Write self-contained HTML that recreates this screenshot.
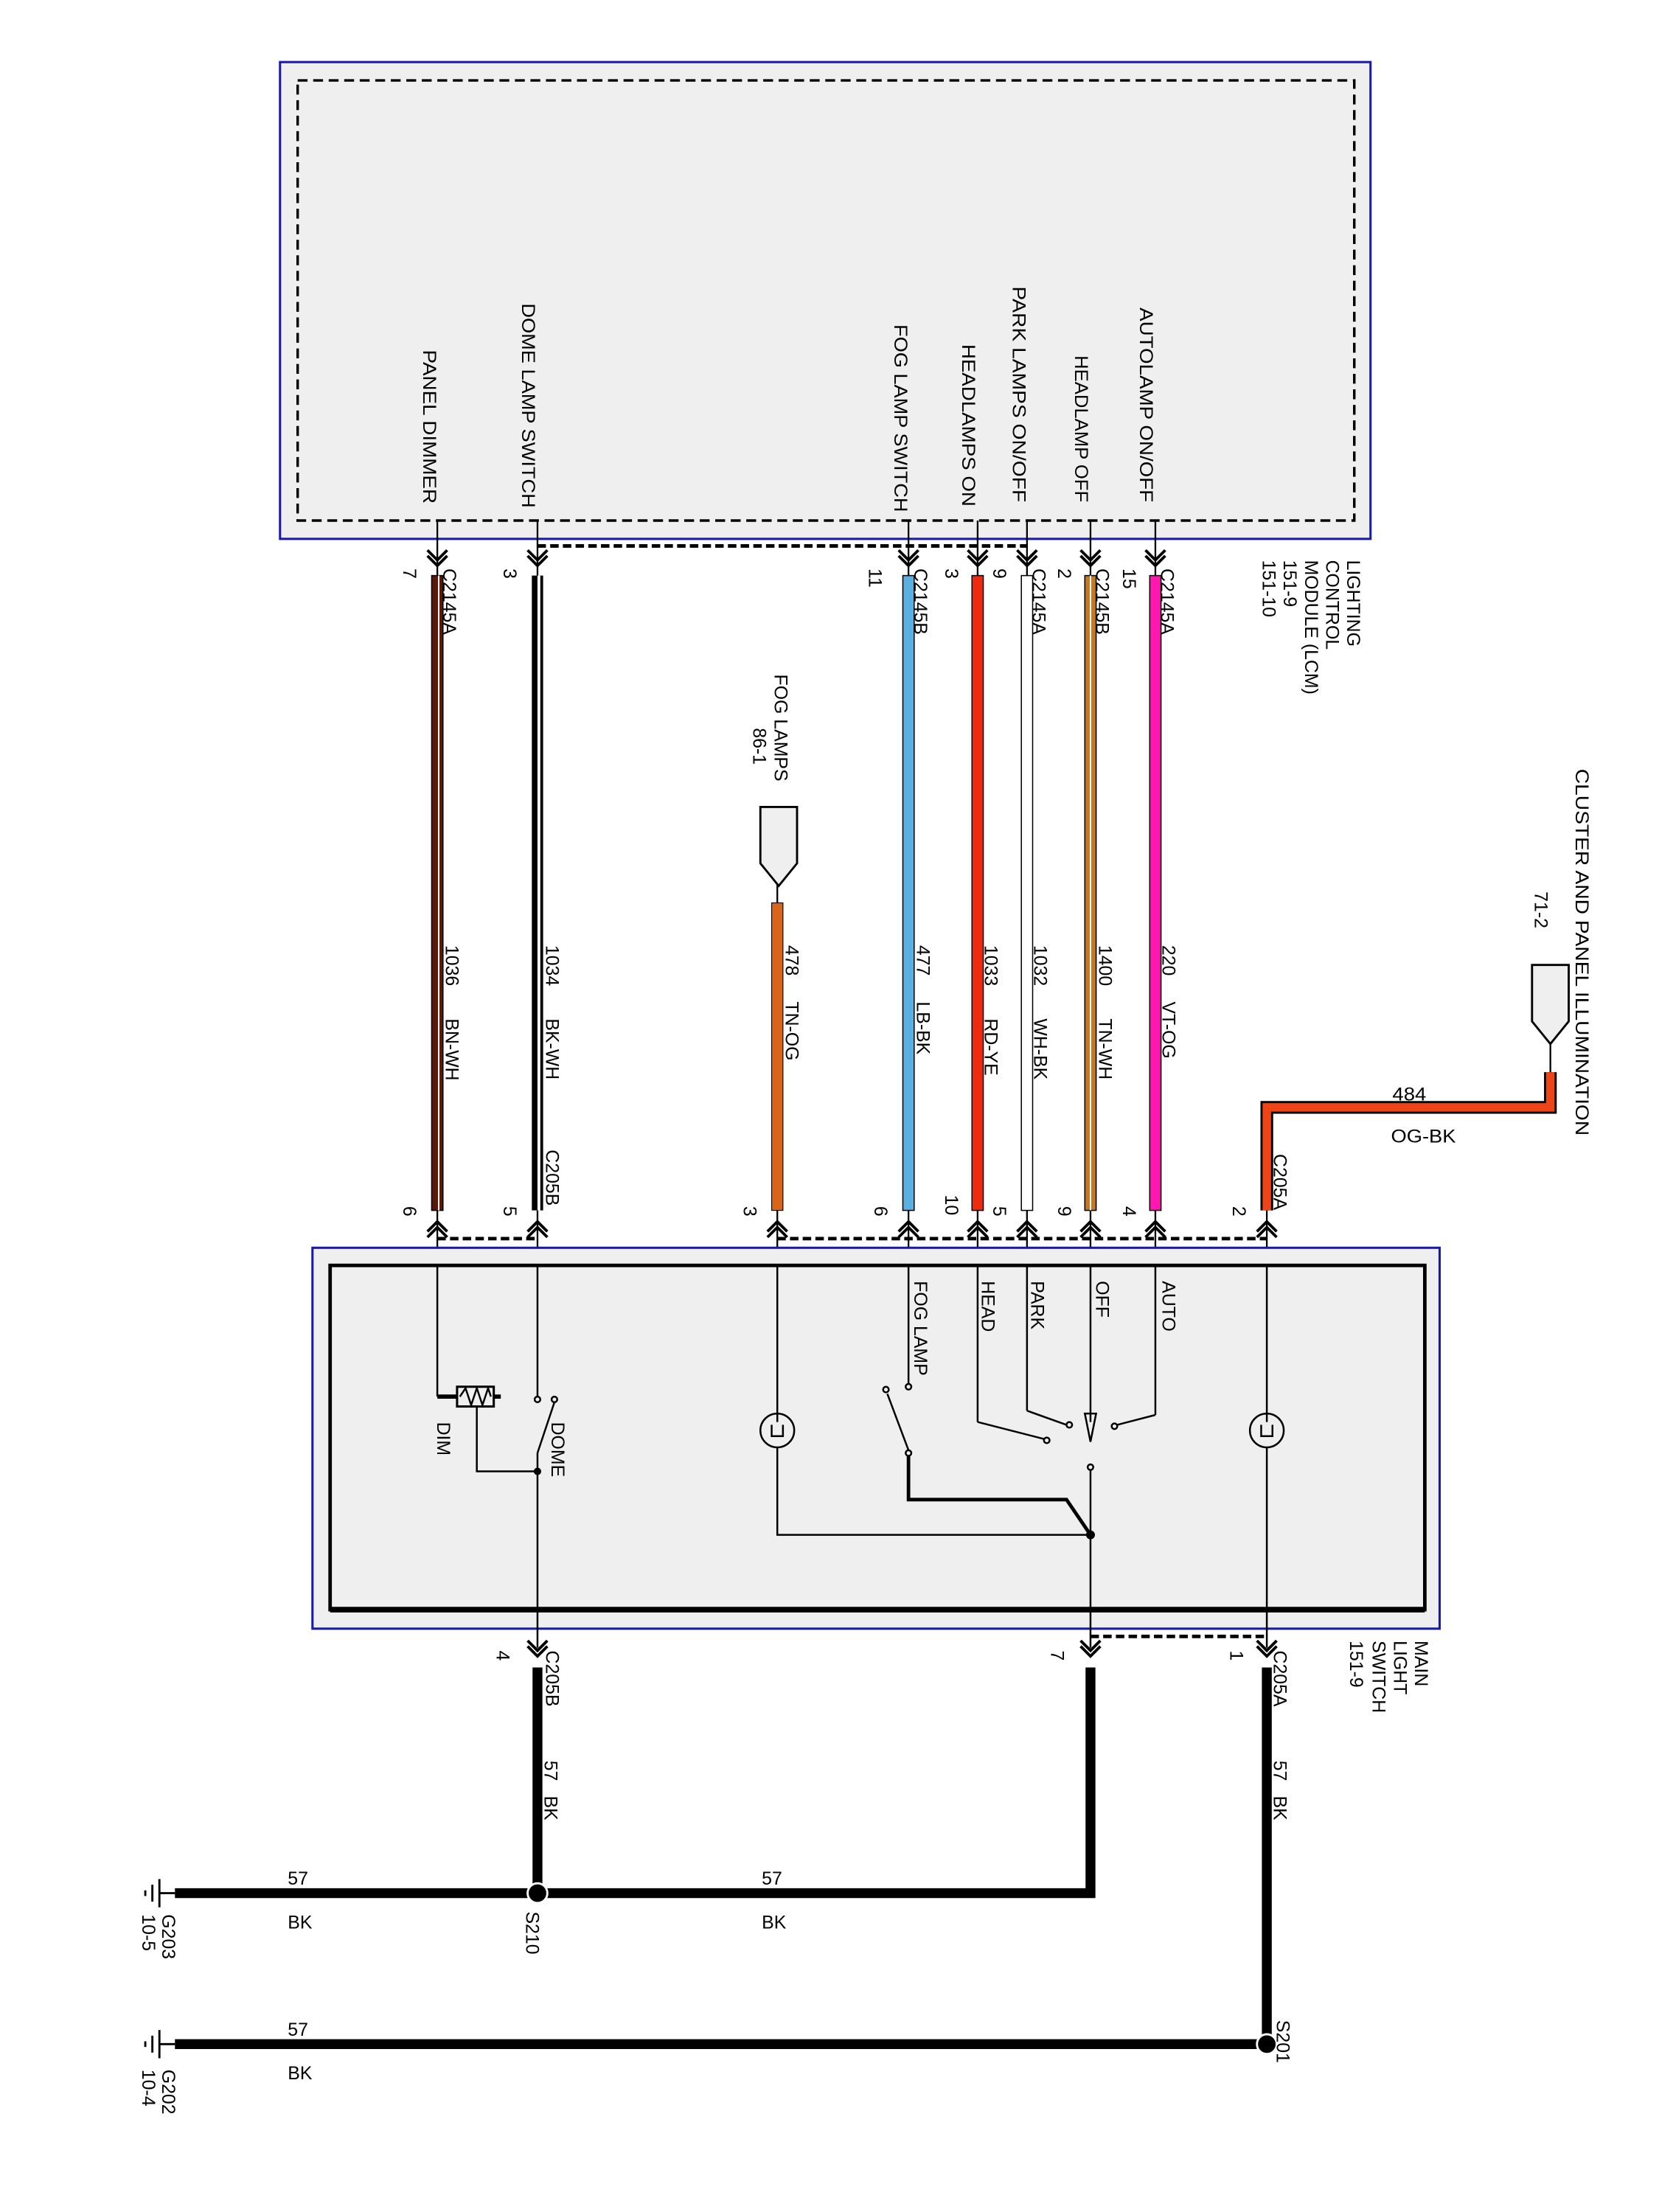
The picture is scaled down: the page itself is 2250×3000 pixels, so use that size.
<!DOCTYPE html>
<html><head><meta charset="utf-8"><style>
html,body{margin:0;padding:0;background:#fff;}
svg{display:block;}
text{font-family:"Liberation Sans",sans-serif;fill:#000;}
</style></head><body>
<svg width="2250" height="3000" viewBox="0 0 1176 1568" preserveAspectRatio="none" xmlns="http://www.w3.org/2000/svg">
<!-- top module -->
<rect x="198.5" y="44" width="773" height="338" fill="#efefef" stroke="#1a1aa8" stroke-width="1.6"/>
<rect x="211" y="57" width="749" height="312" fill="none" stroke="#000" stroke-width="1.8" stroke-dasharray="7,4"/>
<g font-size="13">
<text transform="translate(300,248) rotate(90)" textLength="109" lengthAdjust="spacingAndGlyphs">PANEL DIMMER</text>
<text transform="translate(370,215) rotate(90)" textLength="145" lengthAdjust="spacingAndGlyphs">DOME LAMP SWITCH</text>
<text transform="translate(634,230) rotate(90)" textLength="133" lengthAdjust="spacingAndGlyphs">FOG LAMP SWITCH</text>
<text transform="translate(682,244) rotate(90)" textLength="115" lengthAdjust="spacingAndGlyphs">HEADLAMPS ON</text>
<text transform="translate(718,203) rotate(90)" textLength="153" lengthAdjust="spacingAndGlyphs">PARK LAMPS ON/OFF</text>
<text transform="translate(762,252) rotate(90)" textLength="104" lengthAdjust="spacingAndGlyphs">HEADLAMP OFF</text>
<text transform="translate(808,218) rotate(90)" textLength="138" lengthAdjust="spacingAndGlyphs">AUTOLAMP ON/OFF</text>
</g>
<g stroke="#000" stroke-width="1.2" fill="none">
<line x1="310" y1="369" x2="310" y2="408"/><line x1="381" y1="369" x2="381" y2="408"/>
<line x1="644" y1="369" x2="644" y2="408"/><line x1="693" y1="369" x2="693" y2="408"/>
<line x1="728" y1="369" x2="728" y2="408"/><line x1="773" y1="369" x2="773" y2="408"/>
<line x1="819" y1="369" x2="819" y2="408"/>
</g>
<g stroke="#000" stroke-width="2.5" fill="none" stroke-dasharray="6,3">
<line x1="381" y1="387" x2="728" y2="387"/>
<line x1="310" y1="878" x2="381" y2="878"/>
<line x1="551" y1="878" x2="898" y2="878"/>
<line x1="773" y1="1160" x2="898" y2="1160"/>
</g>
<g stroke="#000" stroke-width="2" fill="none">
<path d="M303,390 L310,397 L317,390 M303,394 L310,401 L317,394"/>
<path d="M374,390 L381,397 L388,390 M374,394 L381,401 L388,394"/>
<path d="M637,390 L644,397 L651,390 M637,394 L644,401 L651,394"/>
<path d="M686,390 L693,397 L700,390 M686,394 L693,401 L700,394"/>
<path d="M721,390 L728,397 L735,390 M721,394 L728,401 L735,394"/>
<path d="M766,390 L773,397 L780,390 M766,394 L773,401 L780,394"/>
<path d="M812,390 L819,397 L826,390 M812,394 L819,401 L826,394"/>
<path d="M303,873 L310,866 L317,873 M303,877 L310,870 L317,877"/>
<path d="M374,873 L381,866 L388,873 M374,877 L381,870 L388,877"/>
<path d="M544,873 L551,866 L558,873 M544,877 L551,870 L558,877"/>
<path d="M637,873 L644,866 L651,873 M637,877 L644,870 L651,877"/>
<path d="M686,873 L693,866 L700,873 M686,877 L693,870 L700,877"/>
<path d="M721,873 L728,866 L735,873 M721,877 L728,870 L735,877"/>
<path d="M766,873 L773,866 L780,873 M766,877 L773,870 L780,877"/>
<path d="M812,873 L819,866 L826,873 M812,877 L819,870 L826,877"/>
<path d="M891,873 L898,866 L905,873 M891,877 L898,870 L905,877"/>
<path d="M374,1163 L381,1170 L388,1163 M374,1167 L381,1174 L388,1167"/>
<path d="M766,1163 L773,1170 L780,1163 M766,1167 L773,1174 L780,1167"/>
<path d="M891,1163 L898,1170 L905,1163 M891,1167 L898,1174 L905,1167"/>
</g>
<g>
<rect x="306" y="408" width="8" height="450" fill="#5a1a0a" stroke="#000" stroke-width="0.8"/>
<line x1="311" y1="408" x2="311" y2="858" stroke="#fff" stroke-width="1"/>
<rect x="377" y="408" width="8" height="450" fill="#000"/>
<line x1="382" y1="408" x2="382" y2="858" stroke="#fff" stroke-width="2"/>
<rect x="547" y="640" width="8" height="218" fill="#d8661a" stroke="#000" stroke-width="0.6"/>
<rect x="640" y="408" width="8" height="450" fill="#5ab0e0" stroke="#000" stroke-width="0.8"/>
<rect x="689" y="408" width="8" height="450" fill="#ee2a10" stroke="#000" stroke-width="0.8"/>
<rect x="724" y="408" width="8" height="450" fill="#fff" stroke="#000" stroke-width="0.8"/>
<rect x="769" y="408" width="8" height="450" fill="#c07a28" stroke="#000" stroke-width="0.8"/>
<line x1="773" y1="408" x2="773" y2="858" stroke="#fff" stroke-width="1"/>
<rect x="815" y="408" width="8" height="450" fill="#ff18b0" stroke="#000" stroke-width="0.8"/>
<path d="M1099,760 L1099,785 L898,785 L898,858" fill="none" stroke="#000" stroke-width="9"/>
<path d="M1099,760 L1099,785 L898,785 L898,858" fill="none" stroke="#ee4418" stroke-width="6"/>
<line x1="551" y1="626" x2="551" y2="640" stroke="#000" stroke-width="1.2"/>
<line x1="1099" y1="738" x2="1099" y2="760" stroke="#000" stroke-width="1.2"/>
<g stroke="#000" stroke-width="1.2">
<line x1="310" y1="858" x2="310" y2="990"/><line x1="381" y1="858" x2="381" y2="990"/>
<line x1="551" y1="858" x2="551" y2="1002"/><line x1="644" y1="858" x2="644" y2="981"/>
<line x1="693" y1="858" x2="693" y2="1008"/><line x1="728" y1="858" x2="728" y2="1000"/>
<line x1="773" y1="858" x2="773" y2="1008"/><line x1="819" y1="858" x2="819" y2="1003"/>
<line x1="898" y1="858" x2="898" y2="1002"/>
</g>
</g>
<path d="M539,572 L565,572 L565,612 L552,628 L539,612 Z" fill="#efefef" stroke="#000" stroke-width="1.5"/>
<path d="M1086,684 L1112,684 L1112,724 L1099,740 L1086,724 Z" fill="#efefef" stroke="#000" stroke-width="1.5"/>
<rect x="221.5" y="884.5" width="799" height="270" fill="#efefef" stroke="#1a1aa8" stroke-width="1.6"/>
<rect x="234" y="897" width="776" height="244" fill="#efefef" stroke="#000" stroke-width="2.5"/>
<line x1="234" y1="1141" x2="1010" y2="1141" stroke="#000" stroke-width="4"/>
<g stroke="#000" stroke-width="1.3" fill="none">
<line x1="310" y1="897" x2="310" y2="990"/><line x1="381" y1="897" x2="381" y2="990"/>
<line x1="551" y1="897" x2="551" y2="1002"/><line x1="644" y1="897" x2="644" y2="981"/>
<line x1="693" y1="897" x2="693" y2="1008"/><line x1="728" y1="897" x2="728" y2="1000"/>
<line x1="773" y1="897" x2="773" y2="1008"/><line x1="819" y1="897" x2="819" y2="1003"/>
<line x1="898" y1="897" x2="898" y2="1002"/>
<line x1="310" y1="990" x2="324" y2="990" stroke-width="3"/>
<rect x="324" y="983" width="26" height="14" stroke-width="1.6"/>
<path d="M326,990 L330,984 L334,996 L338,984 L342,996 L346,984 L348,990"/>
<line x1="350" y1="990" x2="355" y2="990" stroke-width="3"/>
<path d="M338,997 L338,1043 L381,1043"/>
<circle cx="381" cy="992" r="2"/><circle cx="393" cy="992" r="2"/>
<line x1="393" y1="994" x2="381" y2="1030"/>
<line x1="381" y1="1030" x2="381" y2="1141"/>
<circle cx="381" cy="1043" r="2" fill="#000"/>
<line x1="381" y1="1141" x2="381" y2="1168"/>
<circle cx="551" cy="1014" r="12"/>
<path d="M551,1002 L551,1008 M547,1010 L547,1018 L555,1018 L555,1010 M551,1026 L551,1088 L773,1088"/>
<circle cx="898" cy="1014" r="12"/>
<path d="M898,1002 L898,1008 M894,1010 L894,1018 L902,1018 L902,1010 M898,1026 L898,1168"/>
<circle cx="644" cy="983" r="2"/>
<circle cx="628" cy="985" r="2"/>
<line x1="629" y1="988" x2="644" y2="1028"/>
<circle cx="644" cy="1030" r="2"/>
<path d="M644,1032 L644,1063 L756,1063 L773,1088" stroke-width="2.5"/>
<path d="M693,1008 L740,1020"/><circle cx="742" cy="1021" r="2"/>
<path d="M728,1000 L756,1010"/><circle cx="758" cy="1010" r="2"/>
<path d="M819,1003 L792,1010"/><circle cx="790" cy="1011" r="2"/>
<path d="M769,1002 L777,1002 L773,1022 Z"/>
<circle cx="773" cy="1040" r="2"/>
<line x1="773" y1="1042" x2="773" y2="1168"/>
<circle cx="773" cy="1088" r="2.5" fill="#000"/>
</g>
<g font-size="13">
<text transform="translate(648,908) rotate(90)">FOG LAMP</text>
<text transform="translate(696,908) rotate(90)">HEAD</text>
<text transform="translate(731,908) rotate(90)">PARK</text>
<text transform="translate(777,908) rotate(90)">OFF</text>
<text transform="translate(824,908) rotate(90)">AUTO</text>
<text transform="translate(310,1008) rotate(90)">DIM</text>
<text transform="translate(391,1008) rotate(90)">DOME</text>
</g>
<g stroke="#000" stroke-width="7" fill="none">
<line x1="381" y1="1182" x2="381" y2="1342"/>
<path d="M773,1182 L773,1342 L124,1342"/>
<path d="M898,1182 L898,1449 L124,1449"/>
</g>
<circle cx="381" cy="1342" r="7" fill="#000" stroke="#fff" stroke-width="1.5"/>
<circle cx="898" cy="1449" r="7" fill="#000" stroke="#fff" stroke-width="1.5"/>
<g stroke="#000" stroke-width="1.5">
<line x1="113" y1="1342" x2="124" y2="1342"/><line x1="113" y1="1332" x2="113" y2="1352"/>
<line x1="108" y1="1336" x2="108" y2="1348"/><line x1="103" y1="1340" x2="103" y2="1344"/>
<line x1="113" y1="1449" x2="124" y2="1449"/><line x1="113" y1="1439" x2="113" y2="1459"/>
<line x1="108" y1="1443" x2="108" y2="1455"/><line x1="103" y1="1447" x2="103" y2="1451"/>
</g>
<g font-size="13">
<text transform="translate(286,403) rotate(90)">7</text><text transform="translate(314,403) rotate(90)">C2145A</text>
<text transform="translate(357,403) rotate(90)">3</text>
<text transform="translate(616,403) rotate(90)">11</text><text transform="translate(648,403) rotate(90)">C2145B</text>
<text transform="translate(670,403) rotate(90)">3</text>
<text transform="translate(704,403) rotate(90)">9</text><text transform="translate(732,403) rotate(90)">C2145A</text>
<text transform="translate(750,403) rotate(90)">2</text><text transform="translate(777,403) rotate(90)">C2145B</text>
<text transform="translate(796,403) rotate(90)">15</text><text transform="translate(823,403) rotate(90)">C2145A</text>
<text transform="translate(955,397) rotate(90)">LIGHTING</text>
<text transform="translate(940,397) rotate(90)">CONTROL</text>
<text transform="translate(925,397) rotate(90)">MODULE (LCM)</text>
<text transform="translate(910,397) rotate(90)">151-9</text>
<text transform="translate(895,397) rotate(90)">151-10</text>
<text transform="translate(1117,545) rotate(90)" textLength="260" lengthAdjust="spacingAndGlyphs">CLUSTER AND PANEL ILLUMINATION</text>
<text transform="translate(1088,632) rotate(90)">71-2</text>
<text transform="translate(549,478) rotate(90)">FOG LAMPS</text>
<text transform="translate(534,516) rotate(90)">86-1</text>
<text transform="translate(316,670) rotate(90)">1036</text><text transform="translate(316,722) rotate(90)">BN-WH</text>
<text transform="translate(387,670) rotate(90)">1034</text><text transform="translate(387,722) rotate(90)">BK-WH</text>
<text transform="translate(557,670) rotate(90)">478</text><text transform="translate(557,710) rotate(90)">TN-OG</text>
<text transform="translate(650,670) rotate(90)">477</text><text transform="translate(650,710) rotate(90)">LB-BK</text>
<text transform="translate(698,670) rotate(90)">1033</text><text transform="translate(698,722) rotate(90)">RD-YE</text>
<text transform="translate(733,670) rotate(90)">1032</text><text transform="translate(733,722) rotate(90)">WH-BK</text>
<text transform="translate(779,670) rotate(90)">1400</text><text transform="translate(779,722) rotate(90)">TN-WH</text>
<text transform="translate(824,670) rotate(90)">220</text><text transform="translate(824,710) rotate(90)">VT-OG</text>
<text transform="translate(387,815) rotate(90)">C205B</text>
<text transform="translate(903,818) rotate(90)">C205A</text>
<text transform="translate(286,855) rotate(90)">6</text>
<text transform="translate(357,855) rotate(90)">5</text>
<text transform="translate(527,855) rotate(90)">3</text>
<text transform="translate(620,855) rotate(90)">6</text>
<text transform="translate(670,847) rotate(90)">10</text>
<text transform="translate(704,855) rotate(90)">5</text>
<text transform="translate(750,855) rotate(90)">9</text>
<text transform="translate(796,855) rotate(90)">4</text>
<text transform="translate(874,855) rotate(90)">2</text>
<text transform="translate(1003,1163) rotate(90)">MAIN</text>
<text transform="translate(988,1163) rotate(90)">LIGHT</text>
<text transform="translate(973,1163) rotate(90)">SWITCH</text>
<text transform="translate(957,1163) rotate(90)">151-9</text>
<text transform="translate(352,1170) rotate(90)">4</text><text transform="translate(387,1170) rotate(90)">C205B</text>
<text transform="translate(745,1170) rotate(90)">7</text>
<text transform="translate(872,1170) rotate(90)">1</text><text transform="translate(903,1170) rotate(90)">C205A</text>
<text transform="translate(386,1248) rotate(90)">57</text><text transform="translate(386,1273) rotate(90)">BK</text>
<text transform="translate(903,1248) rotate(90)">57</text><text transform="translate(903,1273) rotate(90)">BK</text>
<text transform="translate(115,1357) rotate(90)">G203</text><text transform="translate(101,1357) rotate(90)">10-5</text>
<text transform="translate(115,1467) rotate(90)">G202</text><text transform="translate(101,1467) rotate(90)">10-4</text>
<text transform="translate(373,1355) rotate(90)">S210</text>
<text transform="translate(905,1432) rotate(90)">S201</text>
<text x="987" y="780" textLength="24" lengthAdjust="spacingAndGlyphs">484</text>
<text x="986" y="810" textLength="46" lengthAdjust="spacingAndGlyphs">OG-BK</text>
<text x="204" y="1336">57</text><text x="204" y="1367">BK</text>
<text x="540" y="1336">57</text><text x="540" y="1367">BK</text>
<text x="204" y="1443">57</text><text x="204" y="1474">BK</text>
</g>
</svg>
</body></html>
